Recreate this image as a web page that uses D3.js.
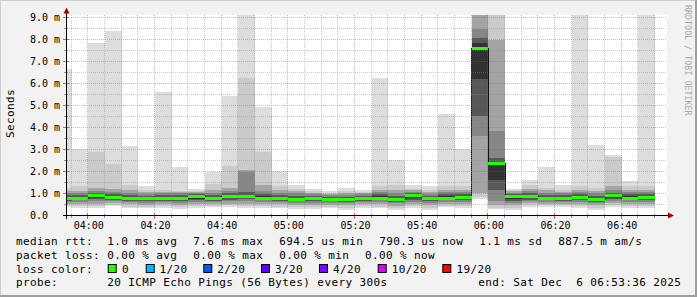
<!DOCTYPE html>
<html><head><meta charset="utf-8">
<script src="https://cdn.jsdelivr.net/npm/d3@7"></script>
<style>
html,body{margin:0;padding:0;background:#f2f2f2;}
svg{display:block;}
text{font-family:"DejaVu Sans Mono",monospace;}
</style></head><body>
<svg id="c" width="697" height="297"></svg>
<script>
// ---- data (times are bin END times, 5-minute steps; values in ms) ----
const binEnds = ["03:55","04:00","04:05","04:10","04:15","04:20","04:25","04:30","04:35","04:40","04:45","04:50",
  "04:55","05:00","05:05","05:10","05:15","05:20","05:25","05:30","05:35","05:40","05:45","05:50",
  "05:55","06:00","06:05","06:10","06:15","06:20","06:25","06:30","06:35","06:40","06:45","06:50"];
const median = [0.76,0.77,0.88,0.78,0.75,0.73,0.75,0.75,0.82,0.74,0.83,0.86,0.77,0.76,0.71,0.74,0.71,0.695,
  0.75,0.77,0.72,0.87,0.73,0.77,0.78,7.56,2.35,0.82,0.85,0.75,0.74,0.79,0.69,0.88,0.77,0.79];
// smoke bands: outermost (lo1..hi1) to innermost (lo6..hi6)
const lo1 = [0.38,0.32,0.32,0.40,0.30,0.30,0.33,0.28,0.34,0.36,0.36,0.30,0.30,0.30,0.27,0.27,0.30,0.25,
  0.32,0.30,0.25,0.33,0.25,0.35,0.33,0.74,0.27,0.25,0.38,0.38,0.38,0.33,0.25,0.38,0.33,0.33];
const lo2 = [0.45,0.39,0.42,0.46,0.38,0.38,0.40,0.36,0.42,0.43,0.44,0.40,0.40,0.38,0.35,0.36,0.38,0.34,
  0.40,0.38,0.33,0.41,0.34,0.42,0.40,0.80,0.33,0.34,0.45,0.45,0.45,0.41,0.34,0.45,0.40,0.41];
const lo3 = [0.52,0.50,0.52,0.54,0.48,0.47,0.49,0.45,0.50,0.50,0.52,0.50,0.50,0.48,0.45,0.46,0.47,0.44,
  0.48,0.48,0.43,0.50,0.44,0.50,0.49,1.00,0.45,0.45,0.53,0.52,0.52,0.50,0.44,0.53,0.49,0.50];
const lo4 = [0.60,0.60,0.62,0.62,0.58,0.56,0.58,0.55,0.60,0.58,0.62,0.62,0.60,0.58,0.55,0.56,0.56,0.54,
  0.57,0.58,0.54,0.60,0.55,0.59,0.59,3.57,0.62,0.56,0.62,0.60,0.60,0.60,0.54,0.64,0.59,0.60];
const lo5 = [0.65,0.66,0.72,0.68,0.64,0.63,0.64,0.62,0.68,0.64,0.70,0.72,0.67,0.65,0.62,0.63,0.62,0.60,
  0.64,0.66,0.61,0.70,0.62,0.66,0.66,4.48,1.15,0.65,0.70,0.66,0.65,0.67,0.60,0.72,0.66,0.67];
const lo6 = [0.70,0.70,0.78,0.72,0.69,0.68,0.69,0.68,0.74,0.68,0.76,0.78,0.71,0.70,0.66,0.68,0.66,0.64,
  0.69,0.71,0.66,0.78,0.67,0.71,0.71,6.20,1.60,0.72,0.76,0.70,0.69,0.72,0.64,0.78,0.71,0.72];
const hi6 = [0.82,0.84,0.95,0.86,0.82,0.80,0.82,0.82,0.88,0.82,0.90,0.92,0.85,0.84,0.78,0.80,0.77,0.76,
  0.81,0.86,0.79,0.92,0.80,0.85,0.86,7.80,2.42,0.88,0.90,0.82,0.81,0.86,0.76,0.94,0.85,0.86];
const hi5 = [0.90,0.92,1.02,0.95,0.92,0.88,0.90,0.90,0.95,0.92,0.98,1.05,0.95,0.93,0.88,0.88,0.84,0.84,
  0.88,0.95,0.88,0.98,0.88,0.94,0.95,8.05,2.60,0.95,0.98,0.92,0.90,0.95,0.86,1.02,0.94,0.95];
const hi4 = [0.98,1.00,1.10,1.05,1.02,0.97,0.98,0.98,1.00,1.02,1.08,1.95,1.10,1.02,0.98,0.96,0.90,0.92,
  0.94,1.05,1.00,1.05,0.96,1.04,1.05,8.45,3.80,1.02,1.08,1.02,0.98,1.05,0.98,1.15,1.04,1.05];
const hi3 = [1.08,1.10,1.25,1.20,1.15,1.05,1.05,1.04,1.05,1.15,1.25,2.06,1.35,1.12,1.08,1.02,0.95,1.00,
  0.99,1.15,1.15,1.12,1.04,1.15,1.15,11.0,7.97,1.08,1.20,1.12,1.05,1.15,1.10,1.30,1.15,1.15];
const hi2 = [1.25,1.30,2.85,2.33,1.38,1.15,1.15,1.10,1.10,1.43,2.25,6.25,2.85,1.30,1.20,1.10,1.00,1.10,
  1.05,1.30,1.35,1.20,1.15,1.30,1.30,12.0,12.0,1.12,1.35,1.25,1.15,1.30,1.25,2.65,1.30,1.30];
const hi1 = [6.65,3.00,7.80,8.35,3.12,1.33,5.60,2.20,1.20,1.94,5.42,12.0,4.90,1.98,1.38,1.20,1.10,1.24,
  1.15,6.24,2.48,1.38,1.33,4.60,3.00,13.0,13.0,1.18,1.57,2.16,1.38,12.0,3.20,2.75,1.53,12.0];
const smokeColors = ["#dddddd","#cacaca","#a4a4a4","#868686","#585858","#323232"];
const yTickValues = [0,1,2,3,4,5,6,7,8,9];
const yTickLabels = ["0.0\u00a0\u00a0","1.0 m","2.0 m","3.0 m","4.0 m","5.0 m","6.0 m","7.0 m","8.0 m","9.0 m"];
const legendRows = [
  ["median rtt:", [[107.3,"1.0 ms avg"],[193.3,"7.6 ms max"],[279.3,"694.5 us min"],[379.3,"790.3 us now"],[479.3,"1.1 ms sd"],[558.3,"887.5 m am/s"]]],
  ["packet loss:", [[107.3,"0.00 % avg"],[193.3,"0.00 % max"],[279.3,"0.00 % min"],[365,"0.00 % now"]]],
  ["loss color:", []],
  ["probe:", [[107.3,"20 ICMP Echo Pings (56 Bytes) every 300s"],[478.3,"end: Sat Dec  6 06:53:36 2025"]]]
];
const lossLabels = ["0","1/20","2/20","3/20","4/20","10/20","19/20"];
const lossColors = ["#26ff00","#00b8ff","#0059ff","#5e00ff","#7e00ff","#dd00ff","#ff0000"];
const lossBoxX = [107.7,145.7,203.3,261,319,377.7,442.3];
const lossTextX = [122,159.5,217.3,275,333,391.8,456.4];

// ---- layout ----
const X0=67, X1=667, Y0=215, Y1=15;
const parse = d3.utcParse("%Y-%m-%d %H:%M");
const t = s => parse("2025-12-06 " + s);
const x = d3.scaleUtc().domain([d3.utcParse("%Y-%m-%d %H:%M:%S")("2025-12-06 03:53:36"),
                                d3.utcParse("%Y-%m-%d %H:%M:%S")("2025-12-06 06:53:36")]).range([X0,X1]);
const y = d3.scaleLinear().domain([0, 200/22]).range([Y0,Y1]);
const svg = d3.select("#c");

svg.append("rect").attr("width",697).attr("height",297).attr("fill","#f2f2f2");
// 3D frame
svg.append("path").attr("d","M0,297V0H697").attr("fill","none").attr("stroke","#cfcfcf").attr("stroke-width",2);
svg.append("path").attr("d","M0,296H696V0").attr("fill","none").attr("stroke","#9e9e9e").attr("stroke-width",2);
svg.append("rect").attr("x",X0).attr("y",Y1).attr("width",X1-X0).attr("height",Y0-Y1).attr("fill","#fff");

svg.append("clipPath").attr("id","pc").append("rect").attr("x",X0).attr("y",Y1).attr("width",X1-X0).attr("height",Y0-Y1);
const plot = svg.append("g").attr("clip-path","url(#pc)");

const bins = binEnds.map((e,i)=>({end:t(e), start:d3.utcMinute.offset(t(e),-5), i}));
const levels = [[lo1,hi1],[lo2,hi2],[lo3,hi3],[lo4,hi4],[lo5,hi5],[lo6,hi6]];
levels.forEach(([lo,hi],L)=>{
  plot.append("g").attr("shape-rendering","crispEdges").selectAll("rect").data(bins).join("rect")
    .attr("x",d=>x(d.start)).attr("width",d=>x(d.end)-x(d.start))
    .attr("y",d=>y(hi[d.i])).attr("height",d=>y(lo[d.i])-y(hi[d.i]))
    .attr("fill",smokeColors[L]);
});
// median step line
const stepPts = bins.map(d=>[x(d.start), y(median[d.i])]);
stepPts.push([x(bins[bins.length-1].end), y(median[median.length-1])]);
plot.append("path").attr("d", d3.line().curve(d3.curveStepAfter)(stepPts))
  .attr("fill","none").attr("stroke","#111").attr("stroke-width",1).attr("shape-rendering","crispEdges");
plot.append("g").attr("shape-rendering","crispEdges").selectAll("rect").data(bins).join("rect")
  .attr("x",d=>x(d.start)).attr("width",d=>x(d.end)-x(d.start))
  .attr("y",d=>y(median[d.i])-1.5).attr("height",3).attr("fill",lossColors[0]);

// grid (on top)
const grid = svg.append("g").attr("fill","none").attr("stroke-width",1).attr("stroke-dasharray","1,1");
const minorY = d3.range(0.5, 9.01, 1);
grid.selectAll(".hy").data(minorY).join("line")
  .attr("x1",X0).attr("x2",X1).attr("y1",d=>Math.round(y(d))+0.5).attr("y2",d=>Math.round(y(d))+0.5)
  .attr("stroke","rgba(140,140,140,0.45)");
grid.selectAll(".hm").data(yTickValues.slice(1)).join("line")
  .attr("x1",X0).attr("x2",X1).attr("y1",d=>Math.round(y(d))+0.5).attr("y2",d=>Math.round(y(d))+0.5)
  .attr("stroke","rgba(220,60,60,0.42)");
const allMin = d3.utcMinute.every(5).range(x.domain()[0], x.domain()[1]);
const minorX = allMin.filter(d=>d.getUTCMinutes()%20!==0);
const majorX = allMin.filter(d=>d.getUTCMinutes()%20===0);
grid.selectAll(".vx").data(minorX).join("line")
  .attr("x1",d=>Math.round(x(d))-0.5).attr("x2",d=>Math.round(x(d))-0.5).attr("y1",Y1).attr("y2",Y0)
  .attr("stroke","rgba(140,140,140,0.45)");
grid.selectAll(".vm").data(majorX).join("line")
  .attr("x1",d=>Math.round(x(d))-0.5).attr("x2",d=>Math.round(x(d))-0.5).attr("y1",Y1).attr("y2",Y0)
  .attr("stroke","rgba(220,60,60,0.42)");

// axes
const xAxis = d3.axisBottom(x).tickValues(majorX).tickFormat(d3.utcFormat("%H:%M")).tickSize(0);
const gx = svg.append("g").attr("transform",`translate(0,${Y0})`).call(xAxis);
gx.select(".domain").remove();
gx.selectAll("text").attr("dy",null).attr("y",13.5).attr("font-size","10px")
  .attr("font-family","DejaVu Sans Mono").attr("fill","#000");
const yAxis = d3.axisLeft(y).tickValues(yTickValues).tickFormat((d,i)=>yTickLabels[i]).tickSize(0).tickPadding(7);
const gy = svg.append("g").attr("transform",`translate(${X0},0.5)`).call(yAxis);
gy.select(".domain").remove();
gy.selectAll("text").attr("font-size","10px").attr("font-family","DejaVu Sans Mono").attr("fill","#000")
  .attr("dy","0.33em").attr("xml:space","preserve");

// ticks
const tk = svg.append("g").attr("shape-rendering","crispEdges");
tk.selectAll(".a").data(minorX).join("line").attr("x1",d=>Math.round(x(d))-0.5).attr("x2",d=>Math.round(x(d))-0.5)
  .attr("y1",Y0-1).attr("y2",Y0+3).attr("stroke","#999");
tk.selectAll(".b").data(majorX).join("line").attr("x1",d=>Math.round(x(d))-0.5).attr("x2",d=>Math.round(x(d))-0.5)
  .attr("y1",Y0-2).attr("y2",Y0+4).attr("stroke","#d06060");
tk.selectAll(".c").data(yTickValues.slice(1)).join("line").attr("y1",d=>Math.round(y(d))+0.5).attr("y2",d=>Math.round(y(d))+0.5)
  .attr("x1",X0-4).attr("x2",X0+2).attr("stroke","#d06060");
tk.selectAll(".d").data(minorY).join("line").attr("y1",d=>Math.round(y(d))+0.5).attr("y2",d=>Math.round(y(d))+0.5)
  .attr("x1",X0-3).attr("x2",X0+1).attr("stroke","#999");
// axis lines + arrows
svg.append("line").attr("x1",63).attr("x2",670).attr("y1",Y0+0.5).attr("y2",Y0+0.5).attr("stroke","#000").attr("shape-rendering","crispEdges");
svg.append("line").attr("x1",X0-0.5).attr("x2",X0-0.5).attr("y1",219).attr("y2",11).attr("stroke","#000").attr("shape-rendering","crispEdges");
svg.append("path").attr("d","M668,212.5L674,215.5L668,218.5Z").attr("fill","#a00000");
svg.append("path").attr("d","M63.5,13.5L66.5,7.5L69.5,13.5Z").attr("fill","#a00000");

// labels
svg.append("text").attr("transform","translate(14,113.5) rotate(-90)").attr("text-anchor","middle")
  .attr("font-size","11px").attr("letter-spacing","0.35px").attr("fill","#000").text("Seconds");
svg.append("text").attr("transform","translate(685,5) rotate(90)").attr("font-size","8.2px")
  .attr("letter-spacing","0.1px").attr("fill","#a8a8a8").text("RRDTOOL / TOBI OETIKER");

// legend
const baselines = [245,258.8,272.5,286.2];
const lg = svg.append("g").attr("font-size","11px").attr("letter-spacing","0.38px").attr("fill","#000");
legendRows.forEach(([head,items],r)=>{
  lg.append("text").attr("x",16).attr("y",baselines[r]).text(head);
  items.forEach(([xx,s])=>lg.append("text").attr("x",xx).attr("y",baselines[r]).attr("xml:space","preserve").text(s));
});
lossLabels.forEach((s,i)=>{
  svg.append("rect").attr("x",lossBoxX[i]+0.5).attr("y",264.5).attr("width",8).attr("height",8)
    .attr("fill",lossColors[i]).attr("stroke","#000").attr("stroke-width",1);
  lg.append("text").attr("x",lossTextX[i]).attr("y",baselines[2]).text(s);
});
</script>
</body></html>
